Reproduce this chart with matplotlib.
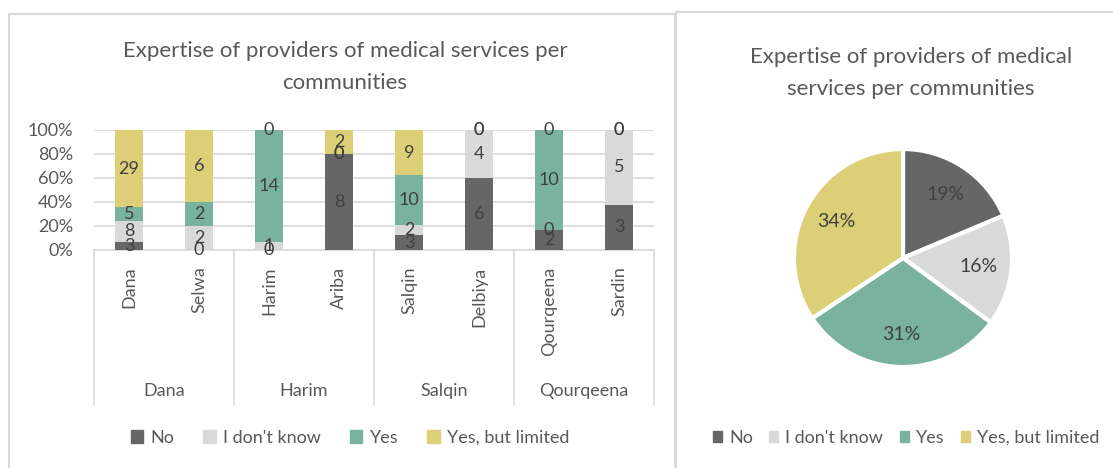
import numpy as np
import matplotlib
matplotlib.use("Agg")
import matplotlib.pyplot as plt
from matplotlib.patches import Rectangle, Patch

plt.rcParams['font.family'] = ['Lato', 'DejaVu Sans']

# data
villages = ['Dana', 'Selwa', 'Harim', 'Ariba', 'Salqin', 'Delbiya', 'Qourqeena', 'Sardin']
groups = ['Dana', 'Harim', 'Salqin', 'Qourqeena']
answers = ['No', "I don't know", 'Yes', 'Yes, but limited']
no_vals = [3, 0, 0, 8, 3, 6, 2, 3]
idk_vals = [8, 2, 1, 0, 2, 4, 0, 5]
yes_vals = [5, 2, 14, 0, 10, 0, 10, 0]
limited_vals = [29, 6, 0, 2, 9, 0, 0, 0]

colors = ['#666666', '#d9d9d9', '#79b29f', '#dccf77']
txt = '#404040'
tick_col = '#595959'
grid_col = '#d9d9d9'

W, H = 1113, 468
fig = plt.figure(figsize=(W / 100, H / 100), dpi=100)


def fx(px):
    return px / W


def fy(py):
    return 1 - py / H


# panel frames
fig.patches.append(Rectangle((fx(9), fy(470)), fx(675 - 9), (470 - 14) / H,
                             transform=fig.transFigure, fill=False,
                             edgecolor='#d9d9d9', lw=1.5))
fig.patches.append(Rectangle((fx(676), fy(470)), fx(1120 - 676), (470 - 12) / H,
                             transform=fig.transFigure, fill=False,
                             edgecolor='#d9d9d9', lw=1.5))

# ---- stacked 100% bar chart ----
ax = fig.add_axes([fx(94), fy(250), fx(654 - 94), (250 - 130) / H])
series = np.array([no_vals, idk_vals, yes_vals, limited_vals], dtype=float)
totals = series.sum(axis=0)
pct = series / totals
x = np.arange(len(villages))
bottom = np.zeros(len(villages))
for i, name in enumerate(answers):
    ax.bar(x, pct[i], 0.4, bottom=bottom, color=colors[i], label=name, zorder=2)
    for j in range(len(villages)):
        ax.text(x[j], bottom[j] + pct[i][j] / 2, '%d' % series[i][j],
                ha='center', va='center', fontsize=13, color=txt, zorder=3)
    bottom += pct[i]

ax.set_xlim(-0.5, len(villages) - 0.5)
ax.set_ylim(0, 1)
ax.set_yticks(np.arange(0, 1.01, 0.2))
ax.set_yticklabels(['%d%%' % v for v in range(0, 101, 20)])
ax.yaxis.grid(True, color=grid_col, lw=1.2, zorder=0)
ax.tick_params(axis='y', length=0, labelsize=13, labelcolor=tick_col, pad=15)
ax.set_xticks(x)
ax.set_xticklabels(villages, rotation=90, va='top')
ax.tick_params(axis='x', length=0, labelsize=13, labelcolor=tick_col, pad=12)
for s in ax.spines.values():
    s.set_visible(False)

# multi-level category axis lines
xt = ax.get_xaxis_transform()
ax.plot([-0.5, len(villages) - 0.5], [0, 0], color=grid_col, lw=1.2,
        transform=xt, clip_on=False, zorder=1)
bottom_ax = -155 / 120
for b in np.arange(-0.5, len(villages), 2):
    ax.plot([b, b], [0, bottom_ax], color=grid_col, lw=1.2,
            transform=xt, clip_on=False)
for k, g in enumerate(groups):
    ax.text(2 * k + 0.5, -141 / 120, g, transform=xt, ha='center', va='center',
            fontsize=13, color=tick_col)

fig.text(fx(345), fy(67), 'Expertise of providers of medical services per\ncommunities',
         ha='center', va='center', fontsize=16, color=tick_col, linespacing=1.7)

handles = [Patch(color=c) for c in colors]
fig.legend(handles, answers, loc='center', bbox_to_anchor=(fx(350), fy(438)),
           ncol=4, frameon=False, fontsize=13, handlelength=0.7,
           handleheight=0.7, handletextpad=0.4, columnspacing=1.6,
           labelcolor=tick_col)

# ---- pie chart of totals ----
pie_vals = series.sum(axis=1)
pax = fig.add_axes([fx(794), fy(367), fx(218), 218 / H])
pax.pie(pie_vals, colors=colors, startangle=90, counterclock=False,
        autopct='%1.0f%%', pctdistance=0.7,
        wedgeprops=dict(edgecolor='white', linewidth=3),
        textprops=dict(color=txt, fontsize=14))
pax.set_xlim(-1, 1)
pax.set_ylim(-1, 1)

fig.text(fx(911), fy(73), 'Expertise of providers of medical\nservices per communities',
         ha='center', va='center', fontsize=16, color=tick_col, linespacing=1.7)

fig.legend(handles, answers, loc='center', bbox_to_anchor=(fx(906), fy(438)),
           ncol=4, frameon=False, fontsize=13, handlelength=0.5,
           handleheight=0.5, handletextpad=0.4, columnspacing=0.9,
           labelcolor=tick_col)

fig.savefig('out.png', dpi=100)
